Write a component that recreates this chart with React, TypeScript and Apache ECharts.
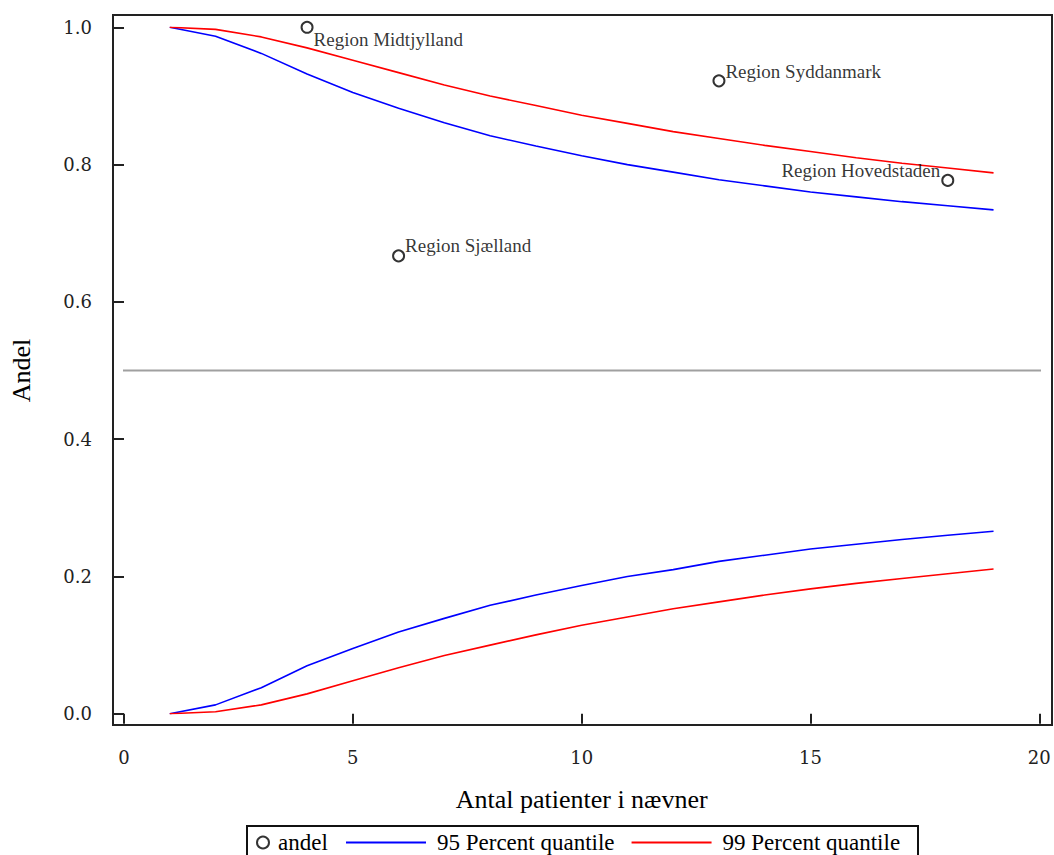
import React, { useEffect, useRef } from "react";
import * as echarts from "echarts";

const nValues = [1, 2, 3, 4, 5, 6, 7, 8, 9, 10, 11, 12, 13, 14, 15, 16, 17, 18, 19];
const lower95 = [0.0, 0.013, 0.038, 0.07, 0.095, 0.119, 0.139, 0.158, 0.173, 0.187, 0.2, 0.21, 0.222, 0.231, 0.24, 0.247, 0.254, 0.26, 0.266];
const upper95 = [1.0, 0.987, 0.962, 0.932, 0.905, 0.882, 0.861, 0.842, 0.827, 0.813, 0.8, 0.789, 0.778, 0.769, 0.76, 0.753, 0.746, 0.74, 0.734];
const lower99 = [0.0, 0.003, 0.013, 0.029, 0.048, 0.067, 0.085, 0.1, 0.115, 0.129, 0.141, 0.153, 0.163, 0.173, 0.182, 0.19, 0.197, 0.204, 0.211];
const upper99 = [1.0, 0.997, 0.986, 0.97, 0.952, 0.934, 0.916, 0.9, 0.886, 0.872, 0.86, 0.848, 0.838, 0.828, 0.819, 0.81, 0.802, 0.795, 0.788];

const regionNames = ["Region Midtjylland", "Region Syddanmark", "Region Hovedstaden", "Region Sjælland"];
const regionN = [4, 13, 18, 6];
const regionAndel = [1.0, 0.922, 0.777, 0.667];

const xTicks = [0, 5, 10, 15, 20];
const yTicks = [0.0, 0.2, 0.4, 0.6, 0.8, 1.0];
const refValue = 0.5;

const SERIF = "Liberation Serif";
const TICKFONT = "DejaVu Serif";

const labelPlacement: Record<string, any> = {
  "Region Midtjylland": { position: "right", distance: 0, offset: [0, 12] },
  "Region Syddanmark": { position: "right", distance: 0, offset: [0, -9] },
  "Region Hovedstaden": { position: "left", distance: 1, offset: [0, -10] },
  "Region Sjælland": { position: "right", distance: 0, offset: [0, -10] },
};

export default function App() {
  const ref = useRef<HTMLDivElement>(null);
  useEffect(() => {
    if (!ref.current) return;
    const chart = echarts.init(ref.current, null, { renderer: "svg" });
    const pairs = (ys: number[]) => nValues.map((n, i) => [n, ys[i]]);
    const scatterData = regionNames.map((name, i) => ({
      name,
      value: [regionN[i], regionAndel[i]],
      label: { show: true, ...labelPlacement[name] },
    }));
    chart.setOption({
      animation: false,
      backgroundColor: "#ffffff",
      textStyle: { fontFamily: SERIF },
      grid: { left: 124, right: 14.7, top: 27.3, bottom: 141.2, containLabel: false },
      xAxis: {
        type: "value",
        min: xTicks[0],
        max: xTicks[xTicks.length - 1],
        interval: 5,
        offset: 13,
        name: "Antal patienter i nævner",
        nameLocation: "middle",
        nameGap: 60,
        nameTextStyle: { fontFamily: SERIF, fontSize: 26, color: "#000" },
        axisLine: { show: false },
        axisTick: { show: true, length: 10, inside: false, lineStyle: { color: "#222", width: 2 } },
        axisLabel: { fontFamily: TICKFONT, fontSize: 18, color: "#222", margin: 22 },
        splitLine: { show: false },
      },
      yAxis: {
        type: "value",
        min: yTicks[0],
        max: yTicks[yTicks.length - 1],
        interval: 0.2,
        offset: 12,
        name: "Andel",
        nameLocation: "middle",
        nameGap: 78,
        nameTextStyle: { fontFamily: SERIF, fontSize: 26, color: "#000" },
        axisLine: { show: false },
        axisTick: { show: true, length: 10, inside: false, lineStyle: { color: "#222", width: 2 } },
        axisLabel: {
          fontFamily: TICKFONT,
          fontSize: 18,
          color: "#222",
          margin: 20,
          formatter: (v: number) => v.toFixed(1),
        },
        splitLine: { show: false },
      },
      legend: [
        {
          data: [{ name: "andel", icon: "emptyCircle" }],
          left: 256,
          top: 831,
          itemWidth: 12,
          itemHeight: 12,
          padding: 0,
          textStyle: { fontFamily: SERIF, fontSize: 23, color: "#000", padding: [0, 0, 0, 4] },
          selectedMode: false,
        },
        {
          data: [
            { name: "95 Percent quantile", icon: "rect" },
            { name: "99 Percent quantile", icon: "rect" },
          ],
          left: 346,
          top: 831,
          itemWidth: 80,
          itemHeight: 2,
          itemGap: 17,
          padding: 0,
          textStyle: { fontFamily: SERIF, fontSize: 23, color: "#000", padding: [0, 0, 0, 6] },
          selectedMode: false,
        },
      ],
      graphic: [
        {
          type: "rect",
          shape: { x: 113, y: 15, width: 939, height: 710 },
          style: { fill: "none", stroke: "#222", lineWidth: 2 },
          silent: true,
          z: 10,
        },
        {
          type: "rect",
          shape: { x: 247, y: 826, width: 671, height: 40 },
          style: { fill: "none", stroke: "#111", lineWidth: 2 },
          silent: true,
        },
      ],
      series: [
        {
          name: "ref",
          type: "line",
          data: [[-0.24, refValue], [20.26, refValue]],
          clip: false,
          symbol: "none",
          silent: true,
          lineStyle: { color: "#a0a0a0", width: 2 },
          z: 1,
        },
        {
          name: "95 Percent quantile",
          type: "line",
          data: pairs(upper95),
          symbol: "none",
          lineStyle: { color: "#0000ff", width: 1.6 },
          itemStyle: { color: "#0000ff" },
        },
        {
          name: "95 Percent quantile",
          type: "line",
          data: pairs(lower95),
          symbol: "none",
          lineStyle: { color: "#0000ff", width: 1.6 },
          itemStyle: { color: "#0000ff" },
        },
        {
          name: "99 Percent quantile",
          type: "line",
          data: pairs(upper99),
          symbol: "none",
          lineStyle: { color: "#ff0000", width: 1.6 },
          itemStyle: { color: "#ff0000" },
        },
        {
          name: "99 Percent quantile",
          type: "line",
          data: pairs(lower99),
          symbol: "none",
          lineStyle: { color: "#ff0000", width: 1.6 },
          itemStyle: { color: "#ff0000" },
        },
        {
          name: "andel",
          type: "scatter",
          data: scatterData,
          symbol: "emptyCircle",
          symbolSize: 11,
          itemStyle: { color: "#000", borderColor: "#000", borderWidth: 2.4 },
          label: {
            show: true,
            formatter: (p: any) => p.name,
            fontFamily: SERIF,
            fontSize: 19,
            color: "#000",
          },
          z: 5,
        },
      ],
    });
    return () => chart.dispose();
  }, []);
  return (
    <div
      ref={ref}
      style={{ position: "absolute", left: 0, top: 0, width: 1054, height: 855, background: "#fff" }}
    />
  );
}
